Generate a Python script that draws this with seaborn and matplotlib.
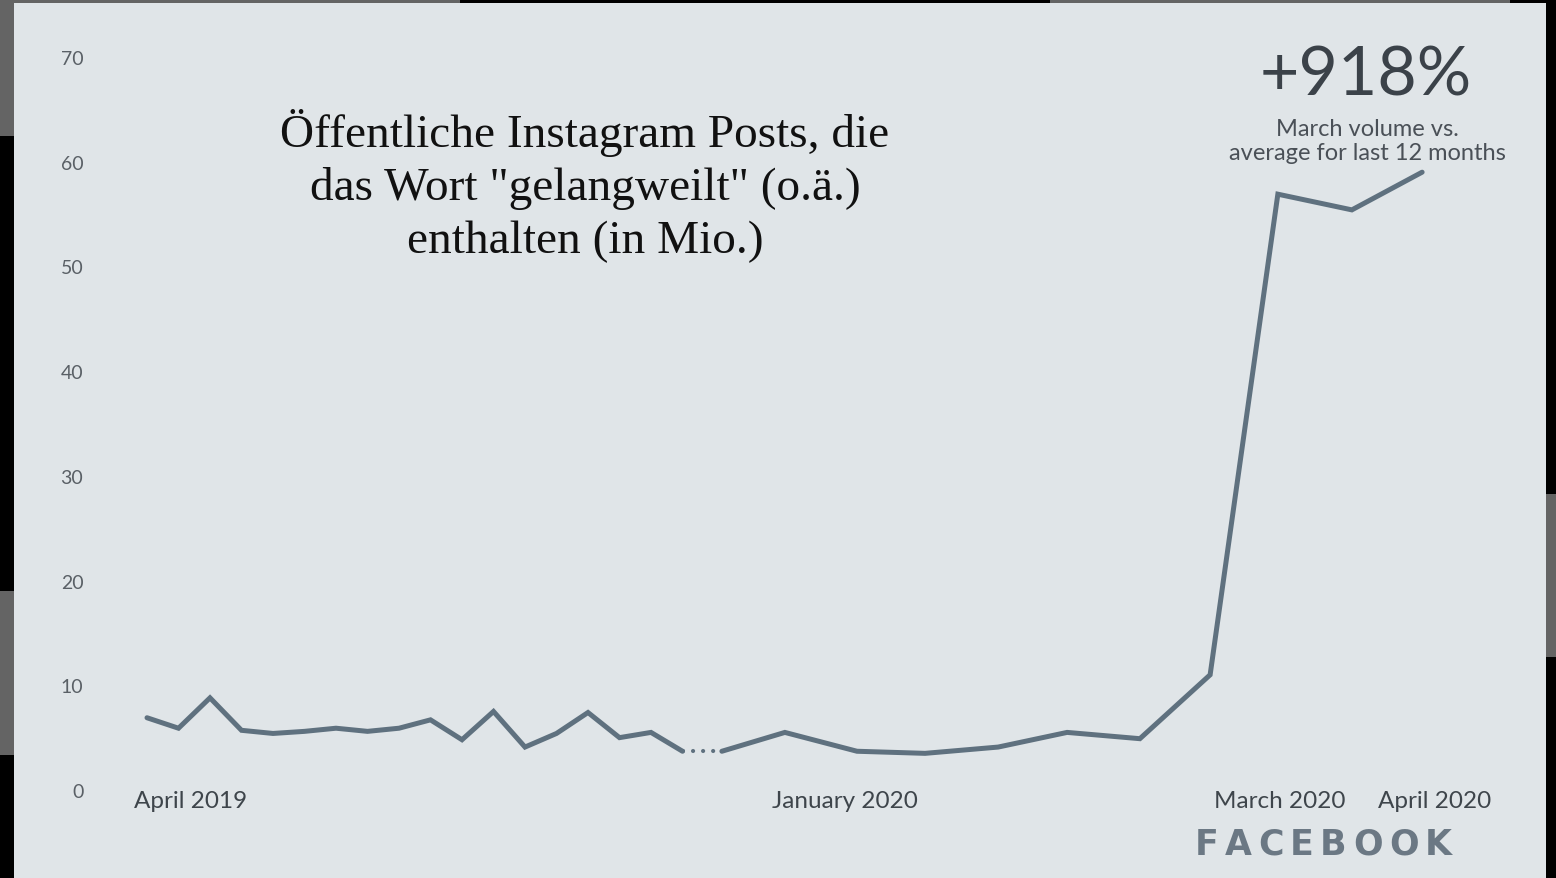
import matplotlib
matplotlib.use("Agg")
import matplotlib.pyplot as plt
from matplotlib.patches import Rectangle
import seaborn as sns
import pandas as pd

# ---- data (values in millions) ----
seg1_x = list(range(18))
seg1_y = [6.9, 5.9, 8.8, 5.7, 5.4, 5.6, 5.9, 5.6, 5.9, 6.7, 4.8, 7.5, 4.1, 5.4, 7.4, 5.0, 5.5, 3.7]
seg2_x = [18.25, 20.25, 22.54, 24.70, 27.02, 29.21, 31.52, 33.75, 35.90, 38.25, 40.48]
seg2_y = [3.7, 5.5, 3.7, 3.5, 4.1, 5.5, 4.9, 11.0, 56.9, 55.4, 59.0]
tick_pos = [1.37, 22.16, 35.97, 40.89]
tick_labels = ["April 2019", "January 2020", "March 2020", "April 2020"]
y_ticks = [0, 10, 20, 30, 40, 50, 60, 70]
title = 'Öffentliche Instagram Posts, die\ndas Wort "gelangweilt" (o.ä.)\nenthalten (in Mio.)'
big_note = "+918%"
small_note_1 = "March volume vs."
small_note_2 = "average for last 12 months"
brand = "FACEBOOK"

df = pd.DataFrame({
    "x": seg1_x + seg2_x,
    "y": seg1_y + seg2_y,
    "seg": ["a"] * len(seg1_x) + ["b"] * len(seg2_x),
})

sns.set_theme(style="white")
plt.rcParams["font.family"] = ["Lato", "DejaVu Sans"]

W, H = 1556, 879
fig = plt.figure(figsize=(W / 100, H / 100), dpi=100)
fig.patch.set_facecolor("#000000")

def frect(x0, y0, x1, y1, color, z=0):
    fig.patches.append(Rectangle((x0 / W, 1 - y1 / H), (x1 - x0) / W, (y1 - y0) / H,
                                 transform=fig.transFigure, facecolor=color,
                                 edgecolor="none", zorder=z))

gray = "#646464"
frect(0, 0, 460, 4, gray)
frect(1050, 0, 1510, 4, gray)
frect(0, 0, 14, 137, gray)
frect(0, 592, 14, 756, gray)
frect(1546, 495, 1556, 658, gray)
bg = "#e0e5e8"
frect(14, 4, 1546, 879, bg, z=1)

L, R, T, B = 100, 1500, 58, 791
ax = fig.add_axes([L / W, 1 - B / H, (R - L) / W, (B - T) / H])
ax.set_facecolor("none")
ax.set_zorder(3)

line_color = "#5f717f"
sns.lineplot(data=df, x="x", y="y", units="seg", estimator=None, color=line_color,
             linewidth=3.6, ax=ax, legend=False, solid_joinstyle="miter")
# dotted connector across the break
ax.plot([seg1_x[-1], seg2_x[0]], [seg1_y[-1], seg2_y[0]], color=line_color,
        linewidth=3.0, linestyle=(0, (0.01, 2.4)), dash_capstyle="round")

ax.set_xlim((L - 147) / 31.5, (R - 147) / 31.5)
ax.set_ylim(0, 70)
ax.set_yticks(y_ticks)
ax.set_yticklabels([str(v) for v in y_ticks], fontsize=14, color="#5a6066")
ax.set_xticks(tick_pos)
ax.set_xticklabels(tick_labels, fontsize=17.5, color="#3e454b")
ax.tick_params(axis="y", length=0, pad=12)
ax.tick_params(axis="x", length=0, pad=0)
ax.set_xlabel("")
ax.set_ylabel("")
for s in ax.spines.values():
    s.set_visible(False)
ax.grid(False)

fig.text(585 / W, 1 - 186 / H, title, ha="center", va="center", fontsize=34,
         family=["Liberation Serif", "DejaVu Serif"], color="#111111",
         linespacing=1.3, zorder=5)
fig.text(1366 / W, 1 - 76 / H, big_note, ha="center", va="center", fontsize=49,
         color="#3b4249", zorder=5)
fig.text(1367 / W, 1 - 129 / H, small_note_1, ha="center", va="center", fontsize=17,
         color="#4a5057", zorder=5)
fig.text(1367 / W, 1 - 153 / H, small_note_2, ha="center", va="center", fontsize=17,
         color="#4a5057", zorder=5)

# letter-spaced brand mark
renderer = fig.canvas.get_renderer()
letters = []
widths = []
for ch in brand:
    t = fig.text(0, 0, ch, fontsize=25, fontweight="bold", color="#6b7884",
                 family=["DejaVu Sans"], ha="left", va="center", zorder=5)
    letters.append(t)
    widths.append(t.get_window_extent(renderer).width)
track = (257 - sum(widths)) / (len(brand) - 1)
xcur = 1195
for t, w in zip(letters, widths):
    t.set_position((xcur / W, 1 - 845 / H))
    xcur += w + track

fig.savefig("out.png", dpi=100, facecolor=fig.get_facecolor())
